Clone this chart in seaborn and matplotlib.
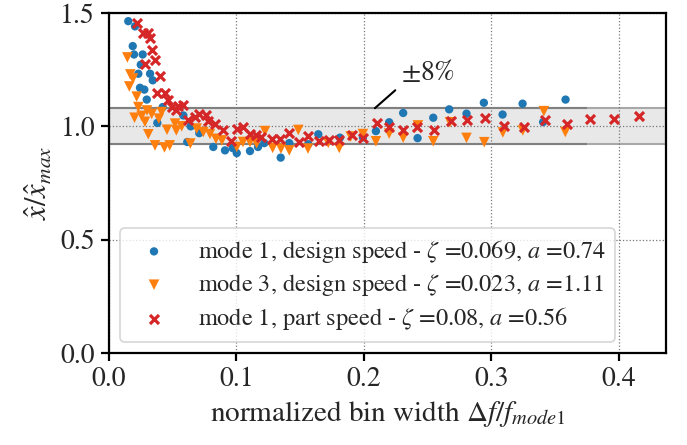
import numpy as np
import pandas as pd
import matplotlib
matplotlib.use("Agg")
import matplotlib.pyplot as plt
import seaborn as sns

# ---- data ----
m1_design_x = [0.0151, 0.0204, 0.0186, 0.0196, 0.0264, 0.0249, 0.0230, 0.0322, 0.0343, 0.0243,
               0.0277, 0.0296, 0.0421, 0.0379, 0.0583, 0.0614, 0.0641, 0.0708, 0.0818, 0.0910,
               0.1002, 0.0970, 0.1106, 0.1169, 0.1218, 0.1347, 0.1414, 0.1563, 0.1642, 0.1812,
               0.1992, 0.2094, 0.2198, 0.2308, 0.2421, 0.2544, 0.2669, 0.2805, 0.2941, 0.3088,
               0.3245, 0.3406, 0.3582]
m1_design_y = [1.464, 1.441, 1.354, 1.317, 1.317, 1.272, 1.232, 1.232, 1.203, 1.170,
               1.162, 1.118, 1.085, 1.015, 1.048, 0.931, 1.000, 0.970, 0.909, 0.894,
               0.882, 0.904, 0.891, 0.909, 0.926, 0.862, 0.926, 0.921, 0.965, 0.950,
               0.952, 0.979, 1.018, 1.059, 0.948, 1.038, 1.075, 1.056, 1.104, 1.052,
               1.100, 1.019, 1.118]

m3_design_x = [0.0144, 0.0167, 0.0188, 0.0159, 0.0217, 0.0230, 0.0200, 0.0256, 0.0282, 0.0298,
               0.0335, 0.0391, 0.0413, 0.0308, 0.0361, 0.0435, 0.0476, 0.0455, 0.0518, 0.0528,
               0.0570, 0.0638, 0.0688, 0.0740, 0.0792, 0.0839, 0.0886, 0.1002, 0.1051, 0.1106,
               0.1158, 0.1224, 0.1284, 0.1349, 0.1414, 0.1485, 0.1561, 0.1720, 0.1806, 0.1896,
               0.1992, 0.2094, 0.2198, 0.2308, 0.2424, 0.2544, 0.2675, 0.2805, 0.2944, 0.3090,
               0.3247, 0.3412, 0.3580]
m3_design_y = [1.304, 1.229, 1.211, 1.176, 1.131, 1.085, 1.038, 1.046, 1.020, 1.070,
               1.055, 1.034, 1.063, 0.965, 0.916, 0.907, 0.916, 0.985, 1.012, 0.982,
               1.000, 0.924, 0.990, 0.975, 0.966, 0.945, 0.938, 0.909, 0.931, 0.931,
               0.925, 0.979, 0.905, 0.902, 0.894, 0.984, 0.902, 0.927, 0.905, 0.955,
               0.966, 0.934, 0.968, 0.950, 1.004, 0.934, 1.018, 0.949, 0.930, 0.973,
               0.982, 1.067, 0.975]

m1_part_x = [0.0217, 0.0269, 0.0302, 0.0319, 0.0339, 0.0357, 0.0282, 0.0400, 0.0380, 0.0439,
             0.0461, 0.0498, 0.0545, 0.0580, 0.0529, 0.0622, 0.0672, 0.0706, 0.0757, 0.0779,
             0.0831, 0.0896, 0.0955, 0.1004, 0.1051, 0.1106, 0.1155, 0.1196, 0.1276, 0.1341,
             0.1414, 0.1489, 0.1563, 0.1645, 0.1728, 0.1806, 0.1904, 0.1995, 0.2100, 0.2198,
             0.2308, 0.2418, 0.2549, 0.2680, 0.2810, 0.2949, 0.3098, 0.3255, 0.3420, 0.3590,
             0.3773, 0.3961, 0.4159]
m1_part_y = [1.455, 1.412, 1.412, 1.390, 1.338, 1.294, 1.274, 1.222, 1.145, 1.147,
             1.116, 1.087, 1.088, 1.095, 1.070, 1.026, 1.043, 1.056, 1.048, 1.025,
             1.010, 0.982, 0.937, 0.988, 0.997, 0.968, 0.960, 0.953, 0.944, 0.946,
             0.970, 0.929, 0.957, 0.936, 0.940, 0.941, 0.960, 0.948, 1.015, 0.997,
             0.985, 0.997, 0.985, 1.023, 1.026, 1.038, 1.000, 0.997, 1.030, 1.012,
             1.034, 1.031, 1.044]

labels = [r"mode 1, design speed - $\zeta$ =0.069, $a$ =0.74",
          r"mode 3, design speed - $\zeta$ =0.023, $a$ =1.11",
          r"mode 1, part speed - $\zeta$ =0.08, $a$ =0.56"]
tol = 0.08
xticks = [0.0, 0.1, 0.2, 0.3, 0.4]
yticks = [0.0, 0.5, 1.0, 1.5]

# ---- style ----
sns.set_theme(style="ticks")
plt.rcParams["font.family"] = ["STIXGeneral", "Liberation Serif", "DejaVu Serif"]
plt.rcParams["mathtext.fontset"] = "stix"
plt.rcParams["font.size"] = 20

fig = plt.figure(figsize=(6.87, 4.45), dpi=100)
ax = fig.add_axes([0.1587, 0.2067, 0.9694 - 0.1587, 0.9708 - 0.2067])

# tolerance band
ax.axhspan(1 - tol, 1 + tol, facecolor="#e8e8e8", edgecolor="#a8a8a8", linewidth=1.5, zorder=0.5)
ax.hlines([1 - tol, 1 + tol], 0, 0.375, colors="#808080", linewidth=1.5, zorder=0.6)

sns.scatterplot(x=m1_design_x, y=m1_design_y, ax=ax, marker="o", s=36, color="#1f77b4",
                edgecolor="none", label=labels[0], zorder=3)
sns.scatterplot(x=m3_design_x, y=m3_design_y, ax=ax, marker="v", s=58, color="#ff7f0e",
                edgecolor="none", label=labels[1], zorder=3)
sns.scatterplot(x=m1_part_x, y=m1_part_y, ax=ax, marker="x", s=42, color="#d62728",
                linewidth=2.3, label=labels[2], zorder=3)

ax.set_xlim(0, 0.437)
ax.set_ylim(0, 1.5)
ax.set_xticks(xticks)
ax.set_yticks(yticks)
ax.set_xticklabels([f"{v:.1f}" for v in xticks])
ax.set_yticklabels([f"{v:.1f}" for v in yticks])
ax.grid(True, linestyle=":", color="#777777", linewidth=0.9)
ax.set_axisbelow(True)
for sp in ax.spines.values():
    sp.set_linewidth(1.6)
    sp.set_color("black")
    sp.set_visible(True)
ax.tick_params(direction="out", length=6, width=1.6, labelsize=20, color="black", pad=4)

ax.set_xlabel(r"normalized bin width $\Delta f/f_{mode1}$", fontsize=21, labelpad=5)
ax.set_ylabel(r"$\hat{x}/\hat{x}_{max}$", fontsize=22, labelpad=4)

# annotation for band
ax.annotate(r"$\pm 8\%$", xy=(0.2086, 1 + tol), xytext=(0.2288, 1.18),
            fontsize=20, ha="left", va="bottom",
            arrowprops=dict(arrowstyle="-", color="black", lw=1.5, shrinkA=2, shrinkB=0,
                            relpos=(0, 0)))

leg = ax.legend(loc="lower left", fontsize=17.5, frameon=True, fancybox=True,
                framealpha=0.8, edgecolor="#cccccc", handletextpad=0.8,
                borderaxespad=0.45, labelspacing=0.3)
leg.get_frame().set_linewidth(1.2)

fig.savefig("out.png", dpi=100)
